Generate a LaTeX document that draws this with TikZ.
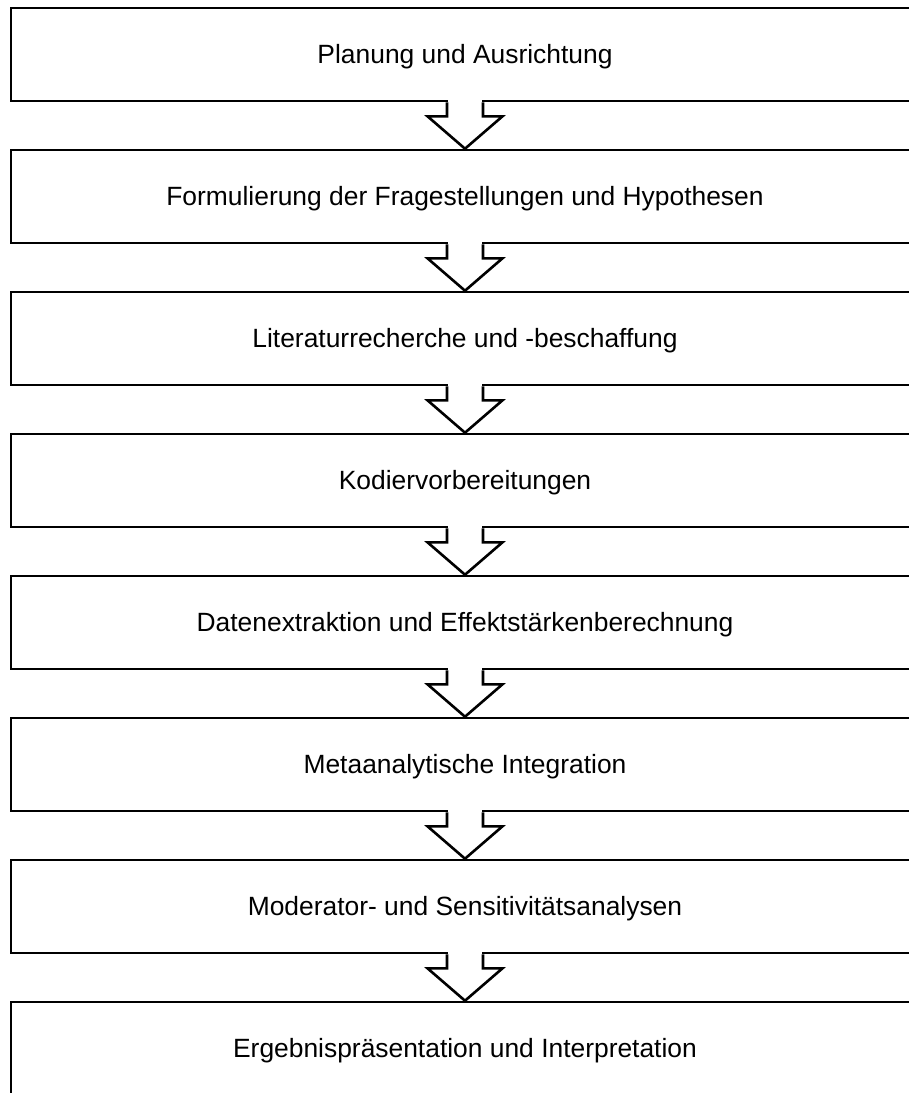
\documentclass[tikz,border=0pt]{standalone}
\usepackage{fontspec}
\setmainfont{Liberation Sans}
\usetikzlibrary{calc}

\tikzset{
  stagebox/.style={draw=black, line width=2.6pt, fill=white,
    minimum width=908pt, minimum height=93pt, inner sep=0pt,
    text height=19.3pt, text depth=1.7pt,
    font=\fontsize{26.4pt}{30pt}\selectfont},
  flowline/.style={draw=black, line width=2.6pt, line join=miter}
}

% hollow block arrow from the bottom of box #1 to the top of box #2
\newcommand{\blockarrow}[2]{%
  \fill[white] ($(#1.south)+(-16.7pt,2pt)$) rectangle ($(#1.south)+(16.7pt,-14pt)$);
  \draw[flowline] ($(#1.south)+(-18pt,0pt)$) -- ++(0pt,-14pt) -- ++(-19.5pt,0pt)
    -- (#2.north) -- ($(#1.south)+(37.5pt,-14pt)$) -- ++(-19.5pt,0pt)
    -- ($(#1.south)+(18pt,0pt)$);
}

\begin{document}
\begin{tikzpicture}
\useasboundingbox (0pt,0pt) rectangle (909pt,-1093pt);

\node[stagebox] (s1) at (465pt,-54.5pt)   {Planung und Ausrichtung};
\node[stagebox] (s2) at (465pt,-196.5pt)  {Formulierung der Fragestellungen und Hypothesen};
\node[stagebox] (s3) at (465pt,-338.5pt)  {Literaturrecherche und -beschaffung};
\node[stagebox] (s4) at (465pt,-480.5pt)  {Kodiervorbereitungen};
\node[stagebox] (s5) at (465pt,-622.5pt)  {Datenextraktion und Effektstärkenberechnung};
\node[stagebox] (s6) at (465pt,-764.5pt)  {Metaanalytische Integration};
\node[stagebox] (s7) at (465pt,-906.5pt)  {Moderator- und Sensitivitätsanalysen};
\node[stagebox] (s8) at (465pt,-1048.5pt) {Ergebnispräsentation und Interpretation};

\blockarrow{s1}{s2}
\blockarrow{s2}{s3}
\blockarrow{s3}{s4}
\blockarrow{s4}{s5}
\blockarrow{s5}{s6}
\blockarrow{s6}{s7}
\blockarrow{s7}{s8}
\end{tikzpicture}
\end{document}
